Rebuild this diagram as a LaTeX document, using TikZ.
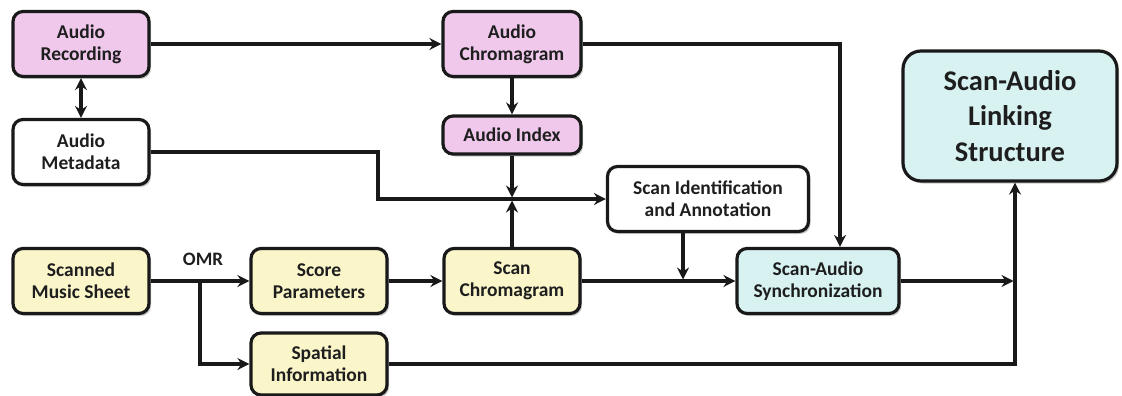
\documentclass[tikz,border=0pt]{standalone}
\usepackage{fontspec}
\setmainfont{Carlito}
\usetikzlibrary{arrows.meta,shadows}
\definecolor{pinkf}{HTML}{EFC8EC}
\definecolor{yelf}{HTML}{FAF6CA}
\definecolor{cyanf}{HTML}{D8F2F2}
\definecolor{txt}{HTML}{1E1E1E}
\begin{document}
\begin{tikzpicture}[x=1pt,y=-1pt,
  box/.style={draw=black!90, line width=3.2pt, rounded corners=10pt, align=center,
    font=\fontsize{19.5}{22}\selectfont\bfseries, text=txt,
    minimum width=136pt, minimum height=65pt, inner sep=2pt,
    drop shadow={shadow xshift=2pt, shadow yshift=-2.5pt, fill=black!45, opacity=.45}},
  pinkbox/.style={box, fill=pinkf},
  yelbox/.style={box, fill=yelf},
  cyanbox/.style={box, fill=cyanf},
  whitebox/.style={box, fill=white},
  arr/.style={line width=3.2pt, draw=black!90, -{Stealth[length=12pt,width=12pt,inset=4pt]}},
  darr/.style={line width=3.2pt, draw=black!90, {Stealth[length=12pt,width=12pt,inset=4pt]}-{Stealth[length=12pt,width=12pt,inset=4pt]}}
]
\useasboundingbox (0,0) rectangle (1122,396);

\node[pinkbox] (rec) at (81,44) {Audio\\Recording};
\node[whitebox] (meta) at (81,152) {Audio\\Metadata};
\node[pinkbox, minimum width=138pt] (achr) at (512,44) {Audio\\Chromagram};
\node[pinkbox, minimum width=138pt, minimum height=38pt] (aidx) at (512,135) {Audio Index};
\node[whitebox, minimum width=201pt] (sid) at (708,199) {Scan Identification\\and Annotation};
\node[yelbox] (sheet) at (81,281) {Scanned\\Music Sheet};
\node[yelbox] (score) at (319,281) {Score\\Parameters};
\node[yelbox, minimum width=136pt] (schr) at (512,281) {Scan\\Chromagram};
\node[yelbox, minimum height=62pt] (spat) at (319,364) {Spatial\\Information};
\node[cyanbox, minimum width=162pt] (sync) at (818,281) {Scan-Audio\\Synchronization};
\node[cyanbox, minimum width=214pt, minimum height=130pt,
  font=\fontsize{28.5}{35.5}\selectfont\bfseries, rounded corners=18pt] (link) at (1010,116) {Scan-Audio\\Linking\\Structure};
\node[font=\fontsize{19}{21}\selectfont\bfseries, text=txt] (omr) at (203,259) {OMR};

\coordinate (j1) at (512,199);
\coordinate (m1) at (378,199);
\coordinate (j2) at (683,281);
\coordinate (c3) at (840,44);
\coordinate (j3) at (1015,281);
\coordinate (j4) at (1015,364);
\coordinate (j5) at (200,281);

\draw[arr] (rec.east) -- (achr.west);
\draw[darr] (rec.south) -- (meta.north);
\draw[arr] (achr.south) -- (aidx.north);
\draw[arr, shorten >=1.5pt] (aidx.south) -- (j1);
\draw[arr, shorten >=1.5pt] (schr.north) -- (j1);
\draw[arr] (meta.east) -| (m1) -- (sid.west);
\draw[arr, shorten >=1.5pt] (sid.south -| j2) -- (j2);
\draw[arr] (schr.east) -- (sync.west);
\draw[arr] (achr.east) -- (c3) -- (c3 |- sync.north);
\draw[arr, shorten >=1.5pt] (sync.east) -- (j3);
\draw[arr] (spat.east) -- (j4) -- (j4 |- link.south);
\draw[arr] (sheet.east) -- (score.west);
\draw[arr] (j5) |- (spat.west);
\draw[arr] (score.east) -- (schr.west);
\end{tikzpicture}
\end{document}
